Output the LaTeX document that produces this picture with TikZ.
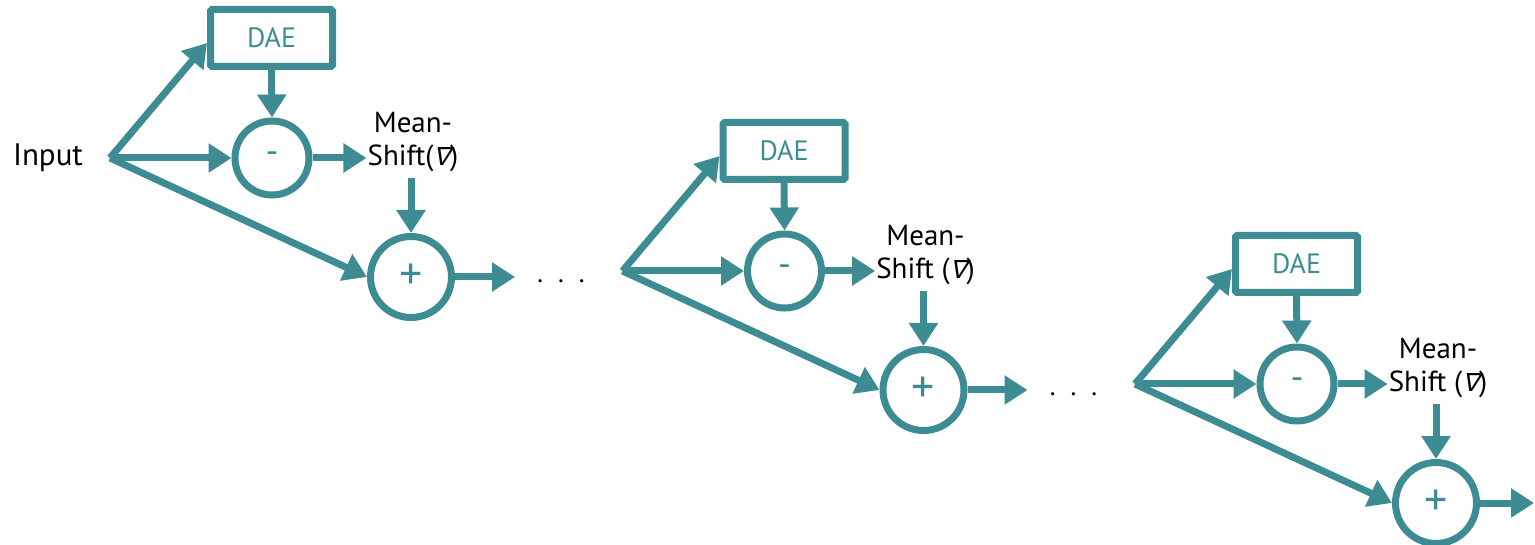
\documentclass[tikz,border=0pt]{standalone}
\usepackage{fontspec}
\setmainfont{PT Sans}
\newfontfamily\nablafont[FakeSlant=0.25]{DejaVu Sans}
\usetikzlibrary{arrows.meta}
\definecolor{dteal}{HTML}{3E8C93}

\tikzset{
  flow/.style={draw=dteal, line width=7pt, -{Triangle[length=23pt,width=28pt]}},
  daebox/.style={draw=dteal, line width=7pt, rounded corners=1.5pt,
    minimum width=122pt, minimum height=57pt, inner sep=0pt,
    text=dteal, font=\fontsize{28}{30}\selectfont},
  diffc/.style={circle, draw=dteal, line width=7pt, minimum size=74pt,
    inner sep=0pt, text=dteal, font=\fontsize{36}{40}\selectfont},
  sumc/.style={circle, draw=dteal, line width=7pt, minimum size=81pt,
    inner sep=0pt, text=dteal, font=\fontsize{46}{50}\selectfont},
  mslabel/.style={align=center, inner sep=1pt, text=black,
    font=\fontsize{29}{33}\selectfont},
  inlabel/.style={inner sep=0pt, text=black, font=\fontsize{31}{36}\selectfont},
  dotsl/.style={inner sep=0pt, text=black, font=\fontsize{27}{30}\selectfont},
}

\newcommand{\nab}{{\nablafont\fontsize{25}{30}\selectfont ∇}}

% one denoising stage: #1,#2 offset, #3 id, #4 second line of the label, #5 end of the output arrow
\newcommand{\stage}[5]{%
  \begin{scope}[shift={(#1,#2)}]
    \coordinate (s#3) at (110,158);
    \node[daebox] (d#3) at (271.5,38) {DAE};
    \node[diffc] (m#3) at (272,158) {-};
    \node[sumc] (p#3) at (411,277) {+};
    \node[mslabel] (ms#3) at (413,142) {Mean-\\#4};
    \coordinate (o#3) at (#5,277);
    \draw[flow] (s#3) -- ([yshift=-5pt]d#3.west);
    \draw[flow] (s#3) -- (m#3.west);
    \draw[flow] (s#3) -- (p#3.west);
    \draw[flow] (d#3.south) -- (m#3.north);
    \draw[flow] (m#3.east) -- (m#3.east -| ms#3.west);
    \draw[flow] ([yshift=-5pt]ms#3.south -| p#3) -- (p#3.north);
    \draw[flow] (p#3.east) -- (o#3);
  \end{scope}}

\begin{document}
\begin{tikzpicture}[x=1pt, y=-1pt]
  \useasboundingbox (0,0) rectangle (1535,545);

  \node[inlabel] (in) at (48,158) {Input};

  \stage{0}{0}{1}{Shift(\nab)}{515}
  \stage{512.5}{113}{2}{Shift (\nab)}{515}
  \stage{1025}{226}{3}{Shift (\nab)}{509}

  \node[dotsl] (g1) at (561,281) {.\hspace{15pt}.\hspace{15pt}.};
  \node[dotsl] (g2) at (1073.5,394) {.\hspace{15pt}.\hspace{15pt}.};
\end{tikzpicture}
\end{document}
